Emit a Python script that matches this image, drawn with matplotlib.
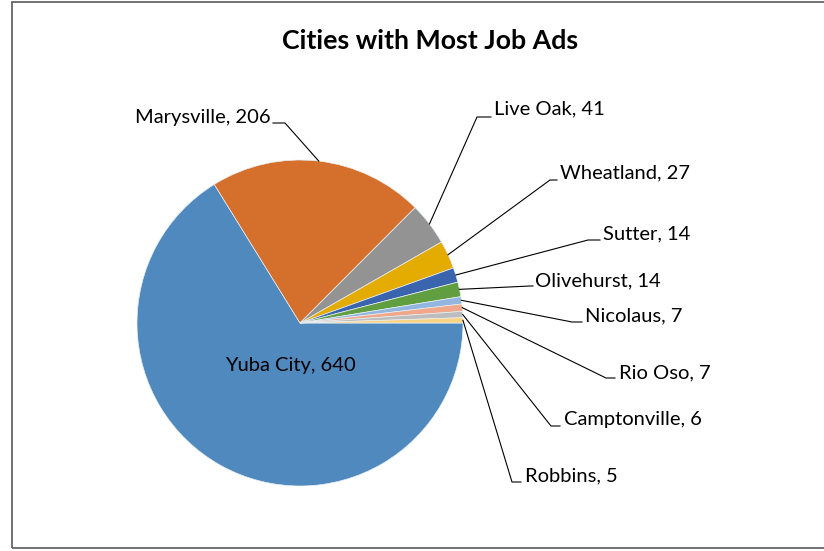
import numpy as np
import matplotlib.pyplot as plt
from matplotlib.patches import Rectangle

plt.rcParams['font.family'] = ['Lato', 'DejaVu Sans']

# Job ads per city
cities = ['Yuba City', 'Marysville', 'Live Oak', 'Wheatland', 'Sutter',
          'Olivehurst', 'Nicolaus', 'Rio Oso', 'Camptonville', 'Robbins']
ads = [640, 206, 41, 27, 14, 14, 7, 7, 6, 5]
colors = ['#4F89BE', '#D5702C', '#939393', '#E4AB00', '#3A64AD',
          '#619E3F', '#92B6E0', '#F1A78A', '#BDBDBD', '#FED481']

W, H = 824, 551
fig = plt.figure(figsize=(W / 100, H / 100), dpi=100)
ax = fig.add_axes([0, 0, 1, 1])

# chart border (right side runs off the canvas)
ax.add_patch(Rectangle((12, H - 548), 900, 546, fill=False,
                       edgecolor='#5a5a5a', linewidth=1.2))

cx, cy, r = 300, H - 323, 163
wedges, _ = ax.pie(ads, colors=colors, startangle=0, counterclock=False,
                   center=(cx, cy), radius=r, frame=True,
                   wedgeprops=dict(edgecolor='#e8eef4', linewidth=0.5))
ax.set_xlim(0, W)
ax.set_ylim(0, H)
ax.set_aspect('equal')
ax.axis('off')

ax.text(430, H - 41, 'Cities with Most Job Ads', ha='center', va='center',
        fontsize=19.3, fontweight='bold')

# elbow of each leader line, end of the short horizontal run, text anchor
label_pos = {
    'Marysville':   ((285, 123), (273, 123), (271, 117), 'right'),
    'Live Oak':     ((477, 117), (491, 117), (494, 109), 'left'),
    'Wheatland':    ((550, 180), (557, 180), (560, 173), 'left'),
    'Sutter':       ((588, 240), (600, 240), (603, 234), 'left'),
    'Olivehurst':   ((530, 286), (533, 286), (535, 281), 'left'),
    'Nicolaus':     ((572, 322), (582, 322), (585, 316), 'left'),
    'Rio Oso':      ((606, 378), (615, 378), (619, 373), 'left'),
    'Camptonville': ((551, 426), (560, 426), (564, 419), 'left'),
    'Robbins':      ((512, 482), (521, 482), (525, 476), 'left'),
}

for w, city, n in zip(wedges, cities, ads):
    label = f'{city}, {n}'
    if city not in label_pos:
        ax.text(290, H - 366, label, ha='center', va='center', fontsize=14.5)
        continue
    mid = np.deg2rad((w.theta1 + w.theta2) / 2)
    px, py = cx + r * np.cos(mid), cy + r * np.sin(mid)
    (ex, ey), (hx, hy), (tx, ty), ha = label_pos[city]
    ax.plot([px, ex, hx], [py, H - ey, H - hy], color='black', lw=0.8,
            solid_joinstyle='miter')
    ax.text(tx, H - ty, label, ha=ha, va='center', fontsize=14.5)

fig.savefig('out.png', dpi=100)
